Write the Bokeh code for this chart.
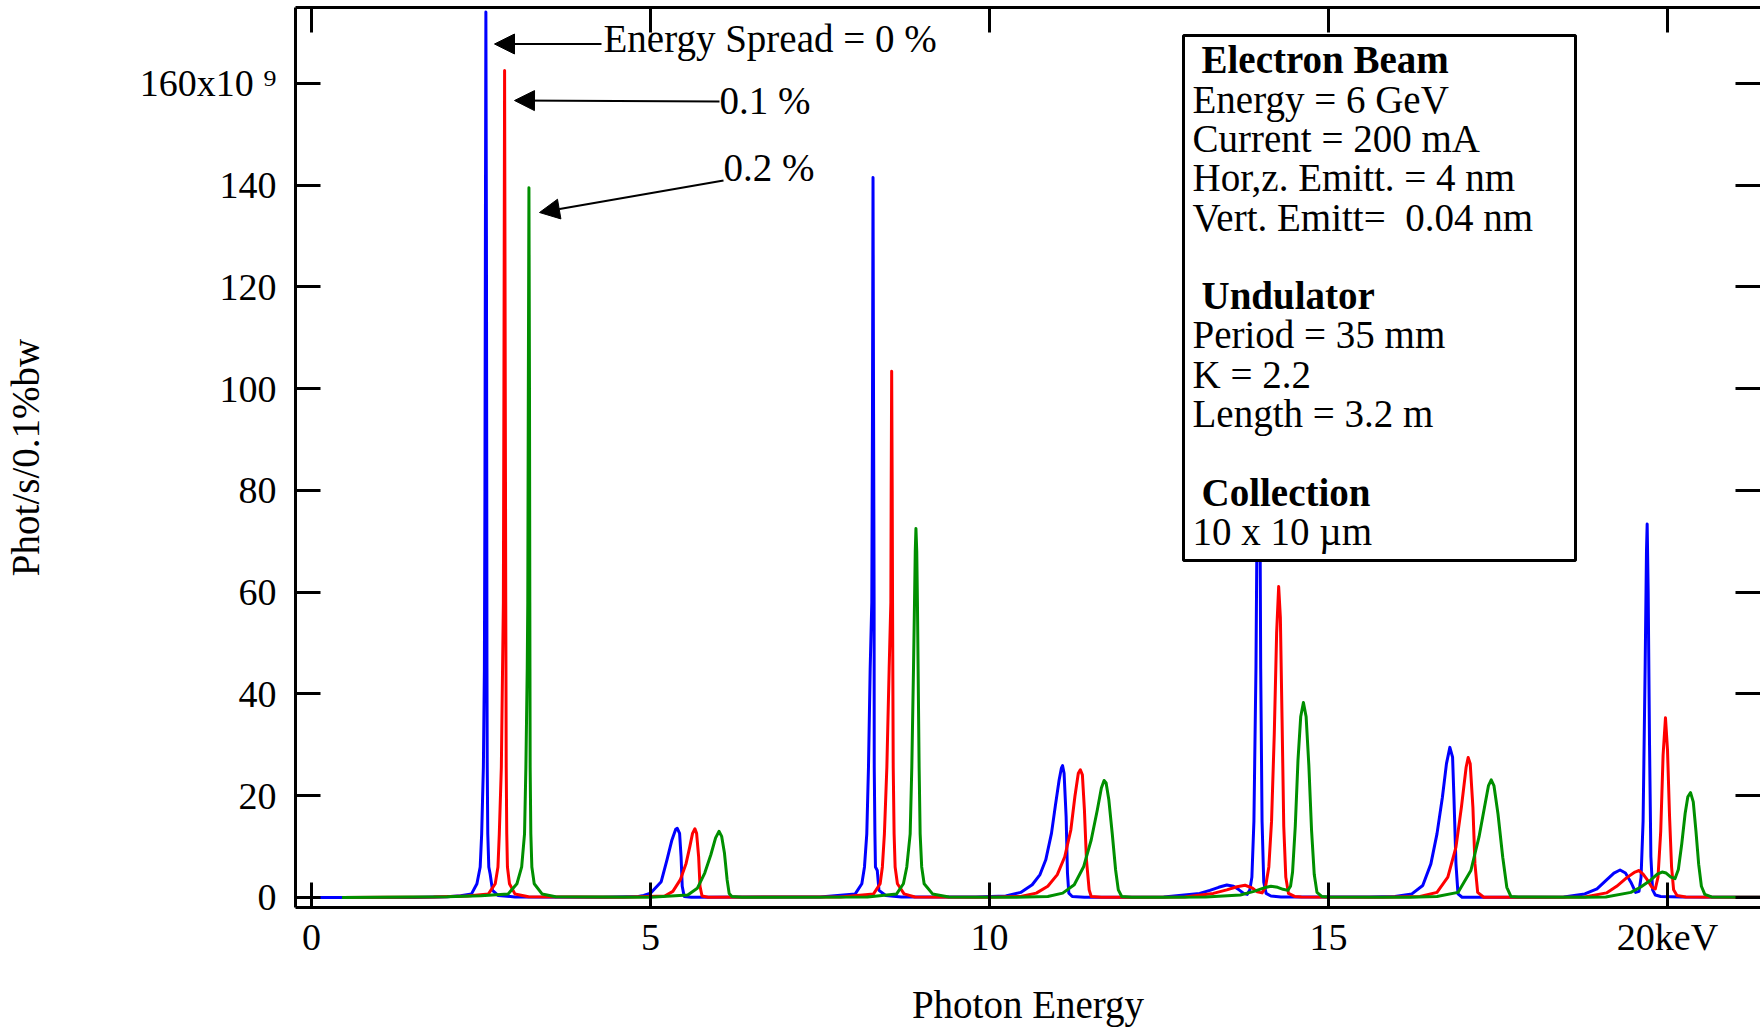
from bokeh.plotting import figure
from bokeh.models import (Range1d, LinearAxis, FixedTicker, Label, BoxAnnotation,
                          Arrow, NormalHead)
from bokeh.embed import file_html
from bokeh.resources import INLINE

# ---------------- data (Photon energy keV, flux 1e9 ph/s/0.1%bw) ----
spread_0pct = [
    (-0.2, 0), (1.5, 0), (2.0, 0.15), (2.2, 0.35),
    (2.36, 0.7), (2.44, 2.7), (2.488, 6), (2.51, 12.5), (2.535, 25.6), (2.55, 45), (2.558, 80),
    (2.565, 130), (2.572, 174), (2.58, 130), (2.585, 80), (2.588, 45), (2.592, 25.6), (2.60, 12.5),
    (2.615, 6), (2.635, 4.6), (2.67, 1.4), (2.75, 0.4), (3.0, 0.1),
    (4.3, 0.05), (4.82, 0.2), (4.9, 0.4), (5.0, 0.85), (5.158, 3.1), (5.243, 7.4), (5.316, 11.3),
    (5.372, 13.4), (5.395, 13.6), (5.429, 12.6), (5.451, 8), (5.468, 2.2), (5.497, 0.2), (5.6, 0.05),
    (7.5, 0.1), (8.02, 0.7), (8.117, 2.7), (8.156, 6), (8.19, 12.5), (8.215, 25.6), (8.24, 45),
    (8.264, 58), (8.274, 95), (8.282, 141.5), (8.29, 95), (8.298, 58), (8.3, 25.6), (8.31, 12.5),
    (8.318, 6), (8.345, 5.3), (8.37, 1.4), (8.47, 0.4), (8.7, 0.1),
    (9.8, 0.1), (10.24, 0.3), (10.46, 1.0), (10.63, 2.5), (10.745, 4.5), (10.83, 7.4),
    (10.914, 12.6), (10.97, 17.9), (11.027, 23.1), (11.06, 25.4), (11.078, 25.9), (11.1, 24.4),
    (11.13, 15.9), (11.15, 4.8), (11.17, 0.85), (11.22, 0.2), (11.4, 0.05),
    (12.0, 0.05), (12.57, 0.1), (13.1, 0.8), (13.25, 1.4), (13.38, 2.0), (13.5, 2.45), (13.6, 2.2),
    (13.68, 1.5), (13.75, 0.8), (13.8, 0.6), (13.84, 1.5), (13.87, 4), (13.9, 15), (13.93, 45),
    (13.955, 90), (13.97, 116), (13.985, 90), (14.0, 45), (14.02, 15), (14.045, 3), (14.08, 0.8),
    (14.15, 0.3), (14.3, 0.1),
    (15.6, 0.1), (15.98, 0.2), (16.23, 0.7), (16.39, 2.35), (16.51, 6.6), (16.6, 12.5),
    (16.68, 19.7), (16.74, 26.3), (16.79, 29.5), (16.83, 27.6), (16.85, 19.7), (16.88, 6.6),
    (16.91, 0.7), (16.97, 0.05),
    (18.2, 0.05), (18.47, 0.1), (18.78, 0.7), (18.96, 1.7), (19.09, 3.3), (19.21, 4.8),
    (19.3, 5.4), (19.38, 4.8), (19.46, 3.0), (19.53, 1.0), (19.58, 1.2), (19.61, 4), (19.64, 15),
    (19.67, 45), (19.69, 68), (19.70, 73.4), (19.715, 60), (19.735, 30), (19.755, 8),
    (19.78, 1.5), (19.82, 0.5), (19.9, 0.2), (20.2, 0.1), (21.5, 0.05),
]

spread_01pct = [
    (0.45, 0), (1.8, 0.1), (2.3, 0.3),
    (2.61, 0.7), (2.71, 2.7), (2.75, 6), (2.77, 12.5), (2.80, 25.6), (2.818, 45), (2.83, 58),
    (2.838, 100), (2.848, 162.5), (2.858, 100), (2.865, 58), (2.868, 45), (2.872, 25.6),
    (2.88, 12.5), (2.89, 6), (2.92, 2.7), (3.0, 0.7), (3.2, 0.15),
    (4.6, 0.05), (5.21, 0.3), (5.33, 1.2), (5.44, 3.5), (5.525, 6.7), (5.58, 10), (5.62, 12.6),
    (5.655, 13.5), (5.68, 12.6), (5.71, 8), (5.73, 2.2), (5.76, 0.3), (5.85, 0.05),
    (7.8, 0.1), (8.29, 0.7), (8.387, 2.7), (8.42, 6), (8.45, 12.5), (8.486, 25.6), (8.52, 45),
    (8.545, 58), (8.55, 80), (8.557, 103.4), (8.565, 80), (8.57, 58), (8.58, 25.6), (8.593, 12.5),
    (8.608, 6), (8.642, 2.7), (8.74, 0.7), (8.9, 0.1),
    (10.0, 0.05), (10.46, 0.2), (10.69, 0.85), (10.86, 2.2), (11.0, 4.5), (11.11, 8), (11.2, 13.3),
    (11.26, 19.9), (11.31, 24.4), (11.34, 25.1), (11.37, 24.1), (11.4, 17.2), (11.43, 7.4),
    (11.47, 1.5), (11.5, 0.2), (11.65, 0.05),
    (12.3, 0.05), (12.88, 0.1), (13.3, 0.8), (13.5, 1.5), (13.65, 2.1), (13.77, 2.4), (13.87, 1.9),
    (13.95, 1.1), (14.02, 0.9), (14.07, 2), (14.12, 6), (14.16, 15), (14.2, 32), (14.235, 52),
    (14.265, 61.1), (14.29, 55), (14.315, 35), (14.34, 14), (14.37, 4), (14.41, 0.8),
    (14.5, 0.2), (14.6, 0.1),
    (15.8, 0.05), (16.35, 0.2), (16.6, 1.0), (16.76, 4), (16.88, 9.9), (16.96, 17.7),
    (17.03, 25.6), (17.06, 27.5), (17.09, 26.3), (17.13, 17.7), (17.16, 6.6), (17.2, 1.0),
    (17.29, 0.05),
    (18.4, 0.05), (18.78, 0.1), (19.1, 0.9), (19.25, 2.2), (19.4, 3.9), (19.52, 5.0), (19.58, 5.3),
    (19.64, 4.6), (19.7, 3.5), (19.77, 2.0), (19.82, 1.7), (19.86, 4), (19.9, 13), (19.935, 28),
    (19.97, 35.3), (20.0, 29), (20.03, 16), (20.06, 6), (20.09, 1.5), (20.14, 0.4),
    (20.27, 0.1), (21.5, 0.05),
]

spread_02pct = [
    (0.45, 0), (2.0, 0.15), (2.5, 0.35),
    (2.9, 0.7), (3.03, 2.7), (3.10, 6), (3.142, 12.5), (3.162, 25.6), (3.182, 45), (3.19, 58),
    (3.198, 100), (3.207, 139.5), (3.215, 100), (3.22, 58), (3.222, 45), (3.225, 25.6),
    (3.235, 12.5), (3.25, 6), (3.285, 2.7), (3.4, 0.7), (3.6, 0.15),
    (5.0, 0.05), (5.55, 0.5), (5.69, 1.8), (5.8, 4.8), (5.89, 8.4), (5.96, 11.7), (6.01, 13.0),
    (6.05, 12), (6.09, 8.8), (6.13, 3.5), (6.16, 0.8), (6.2, 0.2), (6.35, 0.05),
    (8.2, 0.1), (8.63, 0.7), (8.73, 2.7), (8.78, 6), (8.83, 12.5), (8.854, 25.6), (8.879, 45),
    (8.894, 58), (8.905, 68), (8.915, 72.5), (8.927, 68), (8.937, 58), (8.962, 25.6),
    (8.977, 12.5), (9.0, 6), (9.036, 2.7), (9.16, 0.7), (9.4, 0.1),
    (10.4, 0.05), (10.86, 0.2), (11.08, 0.85), (11.25, 2.5), (11.39, 6.1), (11.5, 11.3),
    (11.59, 17.2), (11.65, 21.5), (11.69, 23), (11.72, 22.5), (11.76, 19.2), (11.81, 12.6),
    (11.86, 5.4), (11.9, 1.5), (11.95, 0.2), (12.1, 0.05),
    (12.6, 0.05), (13.19, 0.1), (13.7, 0.5), (13.9, 1.2), (14.05, 1.9), (14.15, 2.2), (14.25, 2.0),
    (14.33, 1.6), (14.4, 1.4), (14.44, 2.2), (14.47, 5), (14.51, 14), (14.55, 27), (14.59, 35.5),
    (14.63, 38.3), (14.67, 35.5), (14.71, 26), (14.75, 13.2), (14.79, 4.5), (14.83, 1.0),
    (14.9, 0.2), (15.0, 0.1),
    (16.2, 0.05), (16.6, 0.2), (16.91, 1.0), (17.1, 5.3), (17.22, 11.9), (17.3, 17.7),
    (17.36, 22), (17.4, 23.1), (17.44, 22), (17.5, 16.4), (17.57, 7.9), (17.63, 2.0),
    (17.69, 0.2), (17.8, 0.1),
    (18.8, 0.05), (19.09, 0.1), (19.46, 1.0), (19.6, 2.0), (19.75, 3.4), (19.85, 4.6), (19.92, 5.0),
    (19.98, 4.8), (20.05, 4.0), (20.11, 3.7), (20.16, 5.5), (20.21, 10.5), (20.26, 16.5),
    (20.3, 19.8), (20.34, 20.6), (20.38, 18.8), (20.42, 13), (20.46, 6.5), (20.5, 2.2),
    (20.55, 0.6), (20.65, 0.1), (21.5, 0.05),
]

x_ticks = [0, 5, 10, 15, 20]
x_tick_labels = {20: "20keV"}
y_ticks = [0, 20, 40, 60, 80, 100, 120, 140, 160]
y_tick_labels = {160: "160x10 \u2079"}

series_colors = ["#0000FF", "#FF0000", "#008F00"]
series_data = [spread_0pct, spread_01pct, spread_02pct]

annotation_texts = ["Energy Spread = 0 %", "0.1 %", "0.2 %"]
info_lines = [
    ("Electron Beam", True), ("Energy = 6 GeV", False), ("Current = 200 mA", False),
    ("Hor,z. Emitt. = 4 nm", False), ("Vert. Emitt=\u00a0 0.04 nm", False), ("", False),
    ("Undulator", True), ("Period = 35 mm", False), ("K = 2.2", False),
    ("Length = 3.2 m", False), ("", False),
    ("Collection", True), ("10 x 10 \u00b5m", False),
]

# ---------------- layout ----------------
FONT = "Liberation Serif"
W, H = 1760, 1030
FL, FT, FB = 295, 7, 907          # frame left / top / bottom in pixels
X0, PX_PER_X = -0.236, 67.8
Y0, Y1 = -1.97, 174.9
X1 = X0 + (W - FL) / PX_PER_X
TXT_SHIFT = -12.5                 # baseline correction for label rendering


def px2x(px):
    return X0 + (px - FL) / PX_PER_X


def py2y(py):
    return Y1 - (py - FT) * (Y1 - Y0) / (FB - FT)


p = figure(width=W, height=H, output_backend="svg", toolbar_location=None,
           x_range=Range1d(X0, X1), y_range=Range1d(Y0, Y1),
           min_border_left=FL, min_border_right=0, min_border_top=FT,
           min_border_bottom=H - FB)
p.outline_line_color = None
p.grid.visible = False
p.background_fill_color = "white"
p.border_fill_color = "white"


def style_axis(ax, ticks, overrides, show_labels=True, line=True):
    ax.ticker = FixedTicker(ticks=ticks, minor_ticks=[])
    ax.major_label_overrides = overrides
    ax.major_tick_in = 25
    ax.major_tick_out = 0
    ax.minor_tick_in = 0
    ax.minor_tick_out = 0
    ax.major_tick_line_width = 3
    ax.major_tick_line_color = "black"
    ax.axis_line_width = 3
    ax.axis_line_color = "black" if line else None
    ax.major_label_text_font = FONT
    ax.axis_label_text_font = FONT
    ax.axis_label_text_font_style = "normal"
    ax.axis_label_text_color = "black"
    if show_labels:
        ax.major_label_text_color = "black"
        ax.major_label_text_font_size = "38px"
        ax.axis_label_text_font_size = "39px"
    else:
        ax.major_label_text_color = None
        ax.major_label_text_font_size = "0px"
        ax.major_label_standoff = 0


xa = p.xaxis[0]
style_axis(xa, x_ticks, x_tick_labels)
xa.axis_label = "Photon Energy"
xa.major_label_standoff = 8
xa.axis_label_standoff = 22

ya = p.yaxis[0]
style_axis(ya, y_ticks, y_tick_labels)
ya.axis_label = "Phot/s/0.1%bw"
ya.major_label_standoff = 19
ya.axis_label_standoff = 90

top = LinearAxis()
style_axis(top, x_ticks, {}, show_labels=False)
p.add_layout(top, "above")

right = LinearAxis()
style_axis(right, y_ticks, {}, show_labels=False, line=False)
p.add_layout(right, "right")

for data, col in zip(series_data, series_colors):
    xs = [d[0] for d in data]
    ys = [d[1] for d in data]
    p.line(xs, ys, line_color=col, line_width=3, line_join="round")

# ---------------- parameter box ----------------
p.add_layout(BoxAnnotation(left=px2x(1183), right=px2x(1575), top=py2y(35), bottom=py2y(560),
                           fill_color="white", fill_alpha=1.0, line_color="black",
                           line_width=3, line_alpha=1.0))
for k, (txt, bold) in enumerate(info_lines):
    if not txt:
        continue
    p.add_layout(Label(x=px2x(1201 if bold else 1192), y=py2y(71.8 + 39.3 * k + TXT_SHIFT),
                       text=txt, text_font=FONT, text_font_size="39px",
                       text_font_style="bold" if bold else "normal",
                       text_baseline="alphabetic", text_align="left", text_color="black"))

# ---------------- energy spread annotations ----------------
label_pos = [(603, 50.5), (719, 112.5), (723, 179)]
arrow_pos = [((601, 43.5), (494, 43.5)), ((719, 101), (514, 100)), ((723, 180), (539, 212))]
for txt, (lx, ly), ((sx, sy), (ex, ey)) in zip(annotation_texts, label_pos, arrow_pos):
    p.add_layout(Label(x=px2x(lx), y=py2y(ly + TXT_SHIFT), text=txt, text_font=FONT,
                       text_font_size="39px", text_baseline="alphabetic",
                       text_align="left", text_color="black"))
    p.add_layout(Arrow(end=NormalHead(size=20, fill_color="black", line_color="black",
                                      line_width=1),
                       x_start=px2x(sx), y_start=py2y(sy), x_end=px2x(ex), y_end=py2y(ey),
                       line_color="black", line_width=2))

open("out.html", "w").write(file_html(p, INLINE))
